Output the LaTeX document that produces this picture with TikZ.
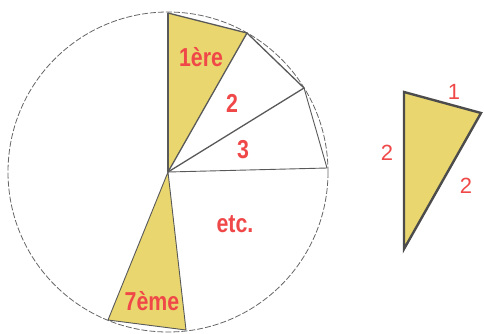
\documentclass[tikz,border=0pt]{standalone}
\usepackage{fontspec}
\setmainfont{Liberation Sans}
\newcommand{\tallbox}[1]{\scalebox{0.97}[1.18]{#1}}
\begin{document}
\begin{tikzpicture}[x=1pt,y=-1pt,
  edge/.style={draw=black!65,line width=1.3pt,line join=round},
  wedge/.style={edge,fill=yel},
  lbl/.style={text=lblred,font=\fontsize{22}{22}\selectfont\bfseries,inner sep=0pt},
  side/.style={text=lblred,font=\fontsize{22}{22}\selectfont,inner sep=0pt}]
\definecolor{yel}{RGB}{233,214,110}
\definecolor{lblred}{RGB}{240,72,72}
\useasboundingbox (0,0) rectangle (484,333);
\coordinate (C) at (168,172);
\coordinate (T) at (168,13);
\coordinate (P1) at (247,33);
\coordinate (P2) at (304,88);
\coordinate (P3) at (327,168);
\coordinate (Q1) at (108,320);
\coordinate (Q2) at (186,330);
% circle
\draw[black!60,line width=0.8pt,dash pattern=on 6pt off 2pt] (C) circle[radius=160];
% wedges
\draw[wedge] (C) -- (T) -- (P1) -- cycle;
\draw[edge] (P1) -- (P2) -- (C);
\draw[edge,line width=0.9pt] (P2) -- (P3) -- (C);
\draw[wedge,line width=0.9pt] (C) -- (Q1) -- (Q2) -- cycle;
\draw[black!65,line width=2pt] (C) -- (T);
% labels
\node[lbl] (l1) at (201,57) {\tallbox{1ère}};
\node[lbl] (l2) at (232,103) {\tallbox{2}};
\node[lbl] (l3) at (243,150) {\tallbox{3}};
\node[lbl] (l4) at (235,224) {\tallbox{etc.}};
\node[lbl] (l7) at (152,301) {\tallbox{7ème}};
% right triangle
\coordinate (A) at (404,92);
\coordinate (B) at (481,113);
\coordinate (D) at (404,249);
\draw[fill=yel,draw=black!70,line width=2.4pt,line join=miter] (A) -- (B) -- (D) -- cycle;
\node[side] (s1) at (454,92) {1};
\node[side] (s2) at (387,153) {2};
\node[side] (s3) at (466,186) {2};
\end{tikzpicture}
\end{document}
